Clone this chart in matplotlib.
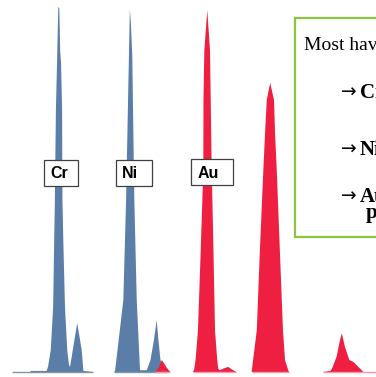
import numpy as np
import matplotlib
matplotlib.use('Agg')
import matplotlib.pyplot as plt
from matplotlib.patches import Rectangle

W, H = 376, 377
nan = np.nan

# EDS spectrum (energy in keV, counts in a.u.)
blue_kev = [4.035, 4.58, 4.59, 5.05, 5.09, 5.17, 5.24, 5.27, 5.29, 5.32, 5.36, 5.39,
            5.42, 5.445, 5.47, 5.50, 5.51, 5.535, 5.584, 5.65, 5.70, 5.73, 5.81, 5.94,
            6.07, 6.12, 6.39, nan,
            7.01, 7.04, 7.28, 7.36, 7.445, 7.47, 7.50, 7.54, 7.60, 7.67, 7.765, 7.96,
            8.07, 8.17, 8.25, 8.30, 8.36, 8.49, 8.58]
blue_counts = [0, 0, 3, 3, 14, 60, 179, 363, 473, 720, 880, 1004,
               1000, 880, 850, 720, 473, 363, 179, 60, 20, 14, 60, 135,
               60, 3, 0, nan,
               0, 3, 198, 473, 880, 997, 960, 870, 473, 198, 5, 5,
               33, 88, 143, 88, 33, 8, 0]

red_kev = [8.20, 8.30, 8.40, 8.52, 8.64, nan,
           9.30, 9.335, 9.38, 9.45, 9.53, 9.605, 9.61, 9.635, 9.72, 9.80, 9.82, 9.85,
           9.90, 9.945, 10.01, 10.04, 10.09, 10.20, 10.33, 10.45, 10.53, 10.55, nan,
           11.01, 11.16, 11.25, 11.35, 11.40, 11.45, 11.55, 11.66, 11.69, 11.74, 11.83,
           11.92, 11.98, 12.08, 12.10, nan,
           13.08, 13.29, 13.34, 13.48, 13.56, 13.63, 13.72, 13.85, 13.965, 14.06, 14.26, 14.70]
red_counts = [0, 10, 33, 15, 0, nan,
              0, 5, 33, 115, 335, 555, 748, 885, 995, 885, 748, 555,
              335, 115, 33, 8, 5, 10, 14, 6, 2, 0, nan,
              0, 115, 335, 555, 657, 748, 795, 748, 657, 555, 335,
              115, 33, 3, 0, nan,
              0, 3, 8, 42, 80, 107, 70, 33, 28, 19, 0, 0]

label_names = ['Cr', 'Ni', 'Au']
note_title = 'Most have'
note_items = ['Cr', 'Ni', 'Au']

BLUE = '#5b7ea8'
RED = '#ee1f40'


def fig_xy(x, y):
    # pixel position (from top-left) -> figure fraction
    return x / W, 1 - y / H


def fill_spectrum(ax, kev, counts, color, base_color):
    kev = np.array(kev, dtype=float)
    counts = np.array(counts, dtype=float)
    ax.fill_between(kev, 0, counts, color=color, lw=0)
    base = np.where(np.isnan(counts), np.nan, 0.0)
    ax.plot(kev, base, color=base_color, lw=1.0, solid_capstyle='butt')


fig = plt.figure(figsize=(W / 100, H / 100), dpi=100)
ax = fig.add_axes([0, 0, 1, 1])
ax.set_xlim(3.695, 14.625)
ax.set_ylim(-13.75, 1023)
ax.axis('off')

fill_spectrum(ax, blue_kev, blue_counts, BLUE, '#8795a3')
fill_spectrum(ax, red_kev, red_counts, RED, '#f39aa8')

# element label boxes
boxes = [(43.5, 160, 34, 26), (115.5, 160, 36, 26), (191, 159, 42, 26)]
for name, (bx, by, bw, bh) in zip(label_names, boxes):
    x0, y0 = fig_xy(bx, by + bh)
    fig.add_artist(Rectangle((x0, y0), bw / W, bh / H, transform=fig.transFigure,
                             facecolor='white', edgecolor='#404040', lw=0.9))
    tx, ty = fig_xy(bx + 6.5, by + bh / 2 + 1)
    fig.text(tx, ty, name, ha='left', va='center', fontsize=11.5, fontweight='bold',
             family='Liberation Sans', color='black')

# note box on the right (cut by the figure edge)
x0, y0 = fig_xy(295, 236.5)
fig.add_artist(Rectangle((x0, y0), 200 / W, 219 / H, transform=fig.transFigure,
                         facecolor='white', edgecolor='#8cc63f', lw=1.6))
serif = ['Liberation Serif', 'DejaVu Serif']
tx, ty = fig_xy(303.5, 50)
fig.text(tx, ty, note_title, ha='left', va='baseline', fontsize=14, family=serif)
for item, yb in zip(note_items, [98, 155, 202]):
    ax_, ay_ = fig_xy(341, yb)
    fig.text(ax_, ay_, '\u2192', ha='left', va='baseline', fontsize=13.5,
             family='DejaVu Sans')
    lx, ly = fig_xy(360, yb)
    fig.text(lx, ly, item, ha='left', va='baseline', fontsize=15, family=serif,
             fontweight='bold')
px, py = fig_xy(366, 218)
fig.text(px, py, 'p', ha='left', va='baseline', fontsize=15, family=serif,
         fontweight='bold')

fig.savefig('out.png', dpi=100)
